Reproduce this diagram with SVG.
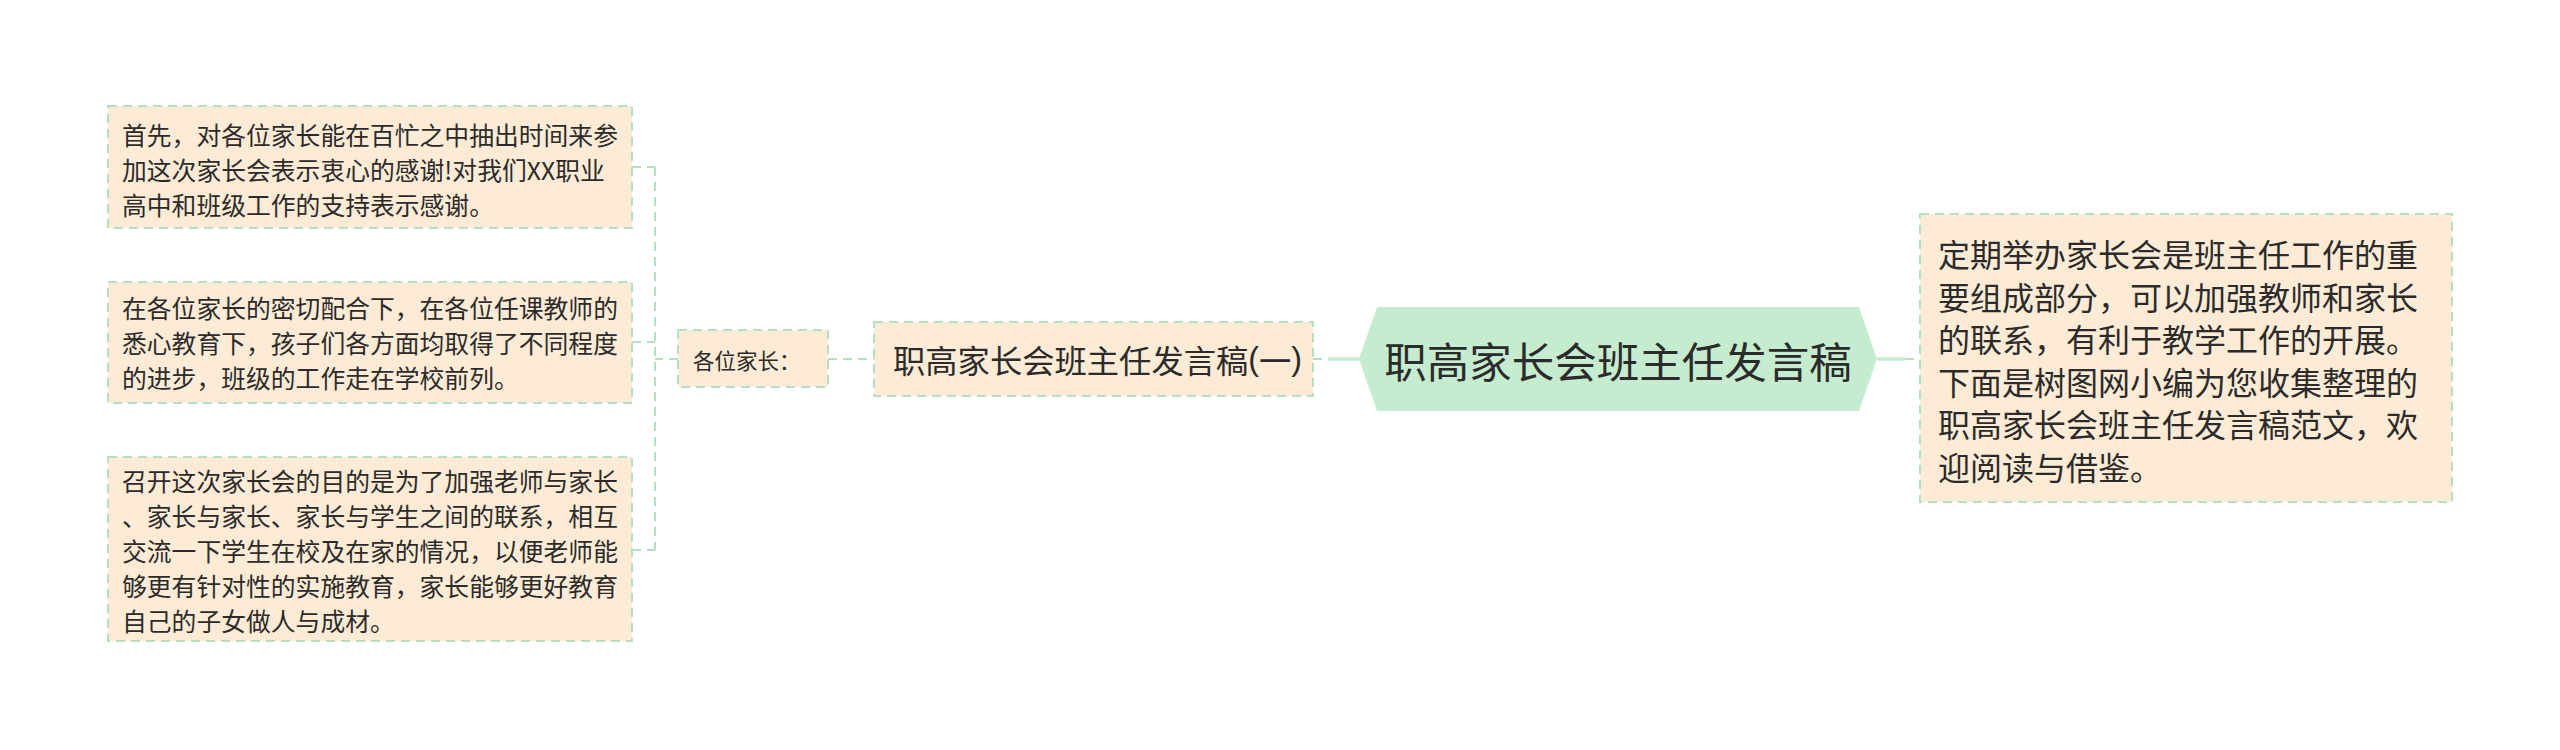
<svg xmlns="http://www.w3.org/2000/svg" width="2560" height="750" viewBox="0 0 2560 750">
<style>
.bg{fill:#ffffff}
.leaf{fill:#fdebd6;stroke:#b3e0c0;stroke-width:2;stroke-dasharray:9 6}
.root{fill:#c5ecce}
.t{font-family:"Noto Sans CJK SC","Noto Sans",sans-serif;fill:#2b2b2b;dominant-baseline:central}
.p{font-family:"Liberation Sans","Noto Sans CJK SC",sans-serif}
.dash{fill:none;stroke:#b3e0c0;stroke-width:2;stroke-dasharray:9 6}
.solid{fill:none;stroke:#c5ecce;stroke-width:3.5}
</style>
<rect class="bg" x="0" y="0" width="2560" height="750"/>
<g id="connectors">
<path class="dash" d="M678 359 H655 M655 167 V550 M632 167 H655 M632 342 H655 M632 550 H655"/>
<path class="dash" d="M828 359 H874"/>
<path class="dash" d="M1313 359 H1328"/>
<path class="solid" d="M1328 359 H1359"/>
<path class="solid" d="M1877 359 H1905"/>
<path class="dash" d="M1905 359 H1920"/>
</g>
<g id="root">
<polygon class="root" points="1359,359 1377,307 1859,307 1877,359 1859,411 1377,411"/>
<text class="t" x="1618" y="359" font-size="42.5" text-anchor="middle">职高家长会班主任发言稿</text>
</g>
<g id="n1">
<rect class="leaf" x="874" y="322" width="439" height="74"/>
<text class="t" x="893" y="359" font-size="32.3">职高家长会班主任发言稿<tspan class="p">(</tspan>一<tspan class="p">)</tspan></text>
</g>
<g id="n2">
<rect class="leaf" x="678" y="330" width="150" height="57"/>
<text class="t" x="693" y="359" font-size="21.5">各位家长：</text>
</g>
<g id="leaf1">
<rect class="leaf" x="108" y="106" width="524" height="122"/>
<text class="t" font-size="24.8"><tspan x="122" y="134">首先，对各位家长能在百忙之中抽出时间来参</tspan><tspan x="122" y="169">加这次家长会表示衷心的感谢!对我们XX职业</tspan><tspan x="122" y="204">高中和班级工作的支持表示感谢。</tspan></text>
</g>
<g id="leaf2">
<rect class="leaf" x="108" y="282" width="524" height="121"/>
<text class="t" font-size="24.8"><tspan x="122" y="307">在各位家长的密切配合下，在各位任课教师的</tspan><tspan x="122" y="342">悉心教育下，孩子们各方面均取得了不同程度</tspan><tspan x="122" y="377">的进步，班级的工作走在学校前列。</tspan></text>
</g>
<g id="leaf3">
<rect class="leaf" x="108" y="457" width="524" height="184"/>
<text class="t" font-size="24.8"><tspan x="122" y="480">召开这次家长会的目的是为了加强老师与家长</tspan><tspan x="122" y="515">、家长与家长、家长与学生之间的联系，相互</tspan><tspan x="122" y="550">交流一下学生在校及在家的情况，以便老师能</tspan><tspan x="122" y="585">够更有针对性的实施教育，家长能够更好教育</tspan><tspan x="122" y="620">自己的子女做人与成材。</tspan></text>
</g>
<g id="right">
<rect class="leaf" x="1920" y="214" width="532" height="288"/>
<text class="t" font-size="32"><tspan x="1938" y="253">定期举办家长会是班主任工作的重</tspan><tspan x="1938" y="295.5">要组成部分，可以加强教师和家长</tspan><tspan x="1938" y="338">的联系，有利于教学工作的开展。</tspan><tspan x="1938" y="380.5">下面是树图网小编为您收集整理的</tspan><tspan x="1938" y="423">职高家长会班主任发言稿范文，欢</tspan><tspan x="1938" y="465.5">迎阅读与借鉴。</tspan></text>
</g>
</svg>
